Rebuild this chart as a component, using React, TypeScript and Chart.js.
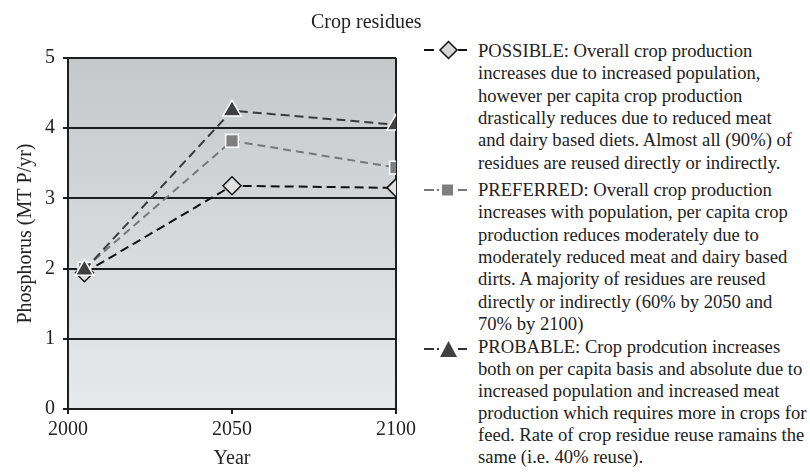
import React, { useEffect, useRef } from "react";
import { Chart, registerables } from "chart.js";

Chart.register(...registerables);

const years = [2005, 2050, 2100];
const possible = [1.94, 3.18, 3.15];
const preferred = [2.0, 3.82, 3.44];
const probable = [1.98, 4.25, 4.05];

const xTicks = [2000, 2050, 2100];
const yTicks = [0, 1, 2, 3, 4, 5];

const legendTitle = "Crop residues";
const possibleLines = [
  "POSSIBLE: Overall crop production",
  "increases due to increased population,",
  "however per capita crop production",
  "drastically reduces due to reduced meat",
  "and dairy based diets. Almost all (90%) of",
  "residues are reused directly or indirectly.",
];
const preferredLines = [
  "PREFERRED: Overall crop production",
  "increases with population, per capita crop",
  "production reduces moderately due to",
  "moderately reduced meat and dairy based",
  "dirts. A majority of residues are reused",
  "directly or indirectly (60% by 2050 and",
  "70% by 2100)",
];
const probableLines = [
  "PROBABLE: Crop prodcution increases",
  "both on per capita basis and absolute due to",
  "increased population and increased meat",
  "production which requires more in crops for",
  "feed. Rate of crop residue reuse ramains the",
  "same (i.e. 40% reuse).",
];

const FONT = "'Liberation Serif', 'Times New Roman', serif";

const bgPlugin = {
  id: "bgPlugin",
  beforeDraw(chart: any) {
    const { ctx, chartArea } = chart;
    if (!chartArea) return;
    const g = ctx.createLinearGradient(0, chartArea.top, 0, chartArea.bottom);
    g.addColorStop(0, "#c6c7c9");
    g.addColorStop(1, "#e8e9eb");
    ctx.save();
    ctx.fillStyle = g;
    ctx.fillRect(chartArea.left, chartArea.top, chartArea.right - chartArea.left, chartArea.bottom - chartArea.top);
    ctx.restore();
  },
  beforeDatasetsDraw(chart: any) {
    const { ctx, chartArea } = chart;
    ctx.save();
    ctx.strokeStyle = "#1e1e1e";
    ctx.lineWidth = 2;
    ctx.beginPath();
    ctx.moveTo(chartArea.right, chartArea.top);
    ctx.lineTo(chartArea.right, chartArea.bottom + 5);
    ctx.stroke();
    ctx.restore();
  },
};

function toPts(vals: number[]) {
  return vals.map((v, i) => ({ x: years[i], y: v }));
}

function LegendItem({ top, lines, marker, markerY, lh }: any) {
  return (
    <>
      <svg
        width={50}
        height={24}
        style={{ position: "absolute", left: 420, top: markerY - 12 }}
      >
        {marker}
      </svg>
      <div style={{ position: "absolute", left: 478, top, lineHeight: lh + "px", fontSize: 18.6, whiteSpace: "nowrap" }}>
        {lines.map((l: string, i: number) => (
          <div key={i}>{l}</div>
        ))}
      </div>
    </>
  );
}

export default function App() {
  const ref = useRef<HTMLCanvasElement>(null);
  useEffect(() => {
    const c = new Chart(ref.current as HTMLCanvasElement, {
      type: "line",
      data: {
        datasets: [
          {
            label: "POSSIBLE",
            data: toPts(possible),
            borderColor: "#111111",
            borderWidth: 2,
            borderDash: [9, 5],
            pointStyle: "rectRot",
            pointRadius: 9,
            pointBackgroundColor: "#e2e2e2",
            pointBorderColor: "#111111",
            pointBorderWidth: 1.5,
            order: 3,
          },
          {
            label: "PREFERRED",
            data: toPts(preferred),
            borderColor: "#787878",
            borderWidth: 2,
            borderDash: [8, 5],
            pointStyle: "rect",
            pointRadius: 9,
            pointBackgroundColor: "#7e7e7e",
            pointBorderColor: "#ffffff",
            pointBorderWidth: 1.5,
            order: 2,
          },
          {
            label: "PROBABLE",
            data: toPts(probable),
            borderColor: "#3a3a3a",
            borderWidth: 2,
            borderDash: [9, 5],
            pointStyle: "triangle",
            pointRadius: 10.5,
            pointBackgroundColor: "#404040",
            pointBorderColor: "#ffffff",
            pointBorderWidth: 1.5,
            order: 1,
          },
        ],
      },
      options: {
        animation: false,
        responsive: false,
        devicePixelRatio: 1,
        layout: { padding: { top: 58, right: 22, left: 0, bottom: 0 } },
        plugins: { legend: { display: false }, tooltip: { enabled: false } },
        scales: {
          x: {
            type: "linear",
            min: xTicks[0],
            max: xTicks[xTicks.length - 1],
            afterBuildTicks(scale: any) {
              scale.ticks = xTicks.map((v) => ({ value: v }));
            },
            afterFit(scale: any) {
              scale.height = 65;
            },
            ticks: {
              color: "#222",
              font: { family: FONT, size: 20 },
              padding: 4,
              maxRotation: 0,
              callback: (v: any) => String(v),
            },
            grid: { drawOnChartArea: false, drawTicks: true, tickLength: 5, color: "#1e1e1e", lineWidth: 2 },
            border: { display: true, color: "#1e1e1e", width: 2 },
            title: { display: true, text: "Year", color: "#222", font: { family: FONT, size: 20 }, padding: { top: 0, bottom: 3 } },
          },
          y: {
            min: yTicks[0],
            max: yTicks[yTicks.length - 1],
            afterBuildTicks(scale: any) {
              scale.ticks = yTicks.map((v) => ({ value: v }));
            },
            afterFit(scale: any) {
              scale.width = 68;
            },
            ticks: { color: "#222", font: { family: FONT, size: 20 }, padding: 8 },
            grid: { drawOnChartArea: true, drawTicks: true, tickLength: 5, color: "#1e1e1e", lineWidth: 2 },
            border: { display: true, color: "#1e1e1e", width: 2 },
            title: {
              display: true,
              text: "Phosphorus (MT P/yr)",
              color: "#222",
              font: { family: FONT, size: 20 },
              padding: { top: 14, bottom: 0 },
            },
          },
        },
      },
      plugins: [bgPlugin],
    } as any);
    return () => c.destroy();
  }, []);

  return (
    <div style={{ position: "absolute", left: 0, top: 0, width: 810, height: 474, background: "#fff", fontFamily: FONT, fontSize: 20, color: "#222" }}>
      <canvas ref={ref} width={420} height={474} style={{ position: "absolute", left: 0, top: 0, width: 420, height: 474 }} />
      <div style={{ position: "absolute", left: 311, top: 10.4, lineHeight: "22.3px", whiteSpace: "nowrap" }}>{legendTitle}</div>
      <LegendItem
        top={39.7}
        lh={22.4}
        lines={possibleLines}
        markerY={49.5}
        marker={
          <g>
            <line x1={4} y1={12} x2={14} y2={12} stroke="#111" strokeWidth={2} />
            <line x1={38} y1={12} x2={47} y2={12} stroke="#111" strokeWidth={2} />
            <polygon points="20,12 28.5,3.5 37,12 28.5,20.5" fill="#d6d6d6" stroke="#111" strokeWidth={1.5} />
          </g>
        }
      />
      <LegendItem
        top={178.8}
        lh={22.4}
        lines={preferredLines}
        markerY={190}
        marker={
          <g>
            <line x1={4} y1={12} x2={14} y2={12} stroke="#777" strokeWidth={2} />
            <line x1={17} y1={12} x2={19} y2={12} stroke="#777" strokeWidth={2} />
            <line x1={38} y1={12} x2={47} y2={12} stroke="#777" strokeWidth={2} />
            <rect x={22} y={6.5} width={11} height={11} fill="#7e7e7e" />
          </g>
        }
      />
      <LegendItem
        top={335.6}
        lh={22}
        lines={probableLines}
        markerY={348.5}
        marker={
          <g>
            <line x1={4} y1={12} x2={14} y2={12} stroke="#333" strokeWidth={2} />
            <line x1={17} y1={12} x2={19} y2={12} stroke="#333" strokeWidth={2} />
            <line x1={38} y1={12} x2={47} y2={12} stroke="#333" strokeWidth={2} />
            <polygon points="20,20 28.5,4 37,20" fill="#404040" />
          </g>
        }
      />
    </div>
  );
}
